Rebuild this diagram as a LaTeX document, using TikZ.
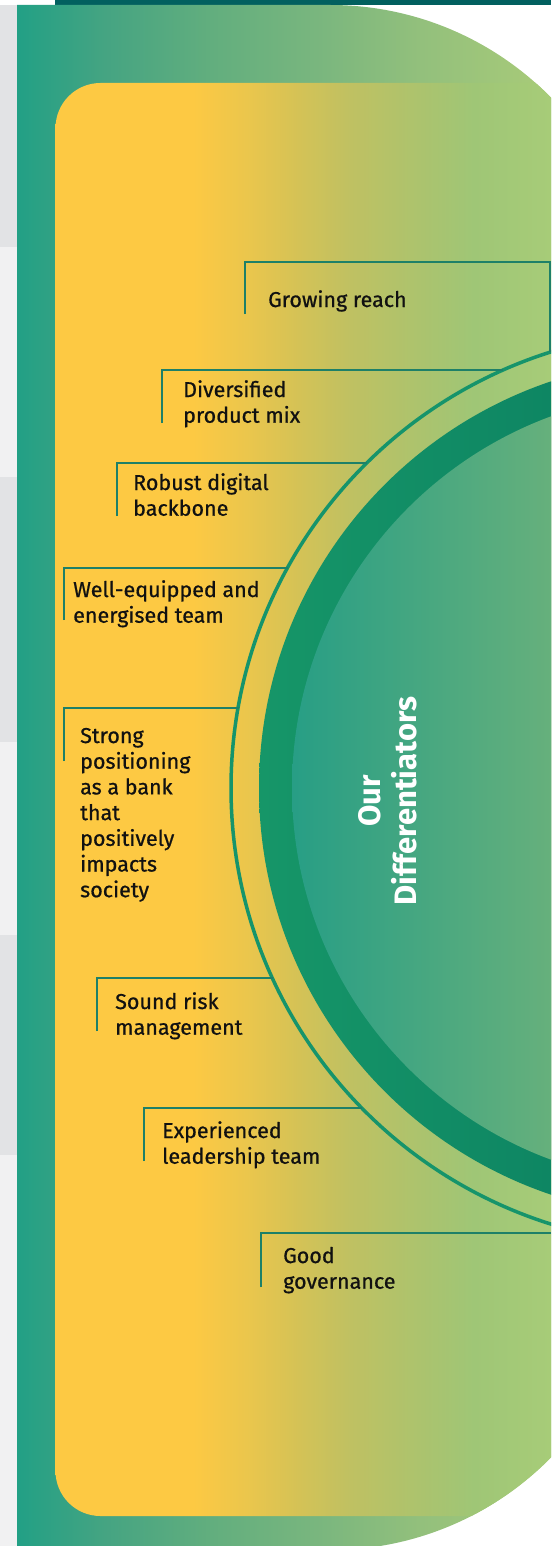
\documentclass[tikz,border=0pt]{standalone}
\usepackage{fontspec}
\setmainfont{Fira Sans}[UprightFeatures={FakeBold=0.7},BoldFont={* Bold},BoldFeatures={FakeBold=0}]

% palette
\definecolor{stripdark}{HTML}{E2E3E5}
\definecolor{striplight}{HTML}{F1F1F2}
\definecolor{topbar}{HTML}{02605F}
\definecolor{ringline}{HTML}{16946B}
\definecolor{conn}{HTML}{1E8068}
\definecolor{ringL}{HTML}{169668}
\definecolor{ringR}{HTML}{0E8663}
\definecolor{coreL}{HTML}{279E85}
\definecolor{coreR}{HTML}{66B07C}
\definecolor{labeltext}{HTML}{111111}
% outer panel gradient stops
\definecolor{g0}{HTML}{22A085}
\definecolor{g1}{HTML}{45A482}
\definecolor{g2}{HTML}{62AE7E}
\definecolor{g3}{HTML}{79B67E}
\definecolor{g4}{HTML}{93C07C}
\definecolor{g5}{HTML}{A5C979}
\definecolor{g6}{HTML}{A8CC78}
% inner panel gradient stops
\definecolor{y0}{HTML}{FDC943}
\definecolor{y1}{HTML}{EBC64C}
\definecolor{y2}{HTML}{D4C256}
\definecolor{y3}{HTML}{BFC162}
\definecolor{y4}{HTML}{ABC36E}
\definecolor{y5}{HTML}{9FC676}
\definecolor{y6}{HTML}{A7CC78}

\pgfdeclarehorizontalshading{outergreen}{100bp}{%
  color(0bp)=(g0); color(25bp)=(g0); color(33.24bp)=(g1); color(43.16bp)=(g2);
  color(53bp)=(g3); color(62.9bp)=(g4); color(72.75bp)=(g5);
  color(75bp)=(g6); color(100bp)=(g6)}
\pgfdeclarehorizontalshading{innergold}{100bp}{%
  color(0bp)=(y0); color(25bp)=(y0); color(38.9bp)=(y0); color(44.25bp)=(y1);
  color(49.6bp)=(y2); color(54.84bp)=(y3); color(62bp)=(y4); color(67.24bp)=(y5);
  color(75bp)=(y6); color(100bp)=(y6)}

\newcommand{\labelsize}{\fontsize{21.5}{25.7}\selectfont}
\newcommand{\titlesize}{\fontsize{31}{36}\selectfont\bfseries}
\newcommand{\lines}[1]{\begin{tabular}[t]{@{}l@{}}#1\end{tabular}}

\begin{document}
\begin{tikzpicture}[x=1pt,y=-1pt,
  tag/.style={anchor=base west,inner sep=0pt,text=labeltext,font=\labelsize},
  heading/.style={anchor=center,inner sep=0pt,text=white,font=\titlesize,align=center,rotate=90},
  leader/.style={draw=conn,line width=1.3pt}]
\useasboundingbox (0,0) rectangle (551,1546);
\clip (0,0) rectangle (551,1546);
\fill[white] (0,0) rectangle (551,1546);

% page strip on the left
\fill[stripdark]  (0,5)    rectangle (17,247);
\fill[striplight] (0,247)  rectangle (17,477);
\fill[stripdark]  (0,477)  rectangle (17,742);
\fill[striplight] (0,742)  rectangle (17,935);
\fill[stripdark]  (0,935)  rectangle (17,1155);
\fill[striplight] (0,1155) rectangle (17,1546);

% top bar
\fill[topbar] (55,0) rectangle (551,5);

% outer green panel with rounded right side, inner golden panel
\begin{scope}
  \clip (17,5) -- (330,5) arc[start angle=270,end angle=360,radius=310]
        -- (640,1240) arc[start angle=0,end angle=90,radius=310]
        -- (17,1550) -- cycle;
  \shade[shading=outergreen] (17,5) rectangle (551,1546);
  \begin{scope}
    \clip[rounded corners=45pt] (55.5,83) rectangle (760,1516);
    \shade[shading=innergold] (55,83) rectangle (551,1516);
  \end{scope}
\end{scope}

% differentiator rings
\coordinate (hub) at (688,788);
\begin{scope}
  \clip (hub) circle[radius=429];
  \shade[left color=ringL,right color=ringR] (259,340) rectangle (551,1240);
\end{scope}
\begin{scope}
  \clip (hub) circle[radius=396];
  \shade[left color=coreL,right color=coreR] (291,380) rectangle (551,1200);
\end{scope}
\draw[ringline,line width=3.5pt] (hub) circle[radius=457];

\node[heading] (title) at (388,801) {Our\\Differentiators};

% labels
\node[tag] (reach)   at (268,307)  {Growing reach};
\node[tag] (mix)     at (183,397)  {\lines{Diversified\\product mix}};
\node[tag] (digital) at (133,490)  {\lines{Robust digital\\backbone}};
\node[tag] (team)    at (73,597)   {\lines{Well-equipped and\\energised team}};
\node[tag] (society) at (80,743)   {\lines{Strong\\positioning\\as a bank\\that\\positively\\impacts\\society}};
\node[tag] (risk)    at (115,1009) {\lines{Sound risk\\management}};
\node[tag] (leaders) at (162,1138) {\lines{Experienced\\leadership team}};
\node[tag] (gov)     at (283,1263) {\lines{Good\\governance}};

% leader lines: foot, corner, end on the ring
\coordinate (reachFoot) at (245,314);   \coordinate (reachCorner) at (245,262);
\coordinate (reachTurn) at (550,262);   \coordinate (reachEnd) at (550,352);
\coordinate (mixFoot) at (162,423);     \coordinate (mixCorner) at (162,370);
\coordinate (mixEnd) at (503,370);
\coordinate (digitalFoot) at (117,516); \coordinate (digitalCorner) at (117,463);
\coordinate (digitalEnd) at (367,463);
\coordinate (teamFoot) at (64,620);     \coordinate (teamCorner) at (64,568);
\coordinate (teamEnd) at (288,568);
\coordinate (societyFoot) at (64,761);  \coordinate (societyCorner) at (64,708);
\coordinate (societyEnd) at (239,708);
\coordinate (riskFoot) at (97,1031);    \coordinate (riskCorner) at (97,978);
\coordinate (riskEnd) at (273,978);
\coordinate (leadersFoot) at (144,1161);\coordinate (leadersCorner) at (144,1108);
\coordinate (leadersEnd) at (362,1108);
\coordinate (govFoot) at (261,1287);    \coordinate (govCorner) at (261,1233);
\coordinate (govEnd) at (551,1233);

\draw[leader] (reachFoot) -- (reachCorner) -- (reachTurn) -- (reachEnd);
\draw[leader] (mixFoot) -- (mixCorner) -- (mixEnd);
\draw[leader] (digitalFoot) -- (digitalCorner) -- (digitalEnd);
\draw[leader] (teamFoot) -- (teamCorner) -- (teamEnd);
\draw[leader] (societyFoot) -- (societyCorner) -- (societyEnd);
\draw[leader] (riskFoot) -- (riskCorner) -- (riskEnd);
\draw[leader] (leadersFoot) -- (leadersCorner) -- (leadersEnd);
\draw[leader] (govFoot) -- (govCorner) -- (govEnd);
\end{tikzpicture}
\end{document}
